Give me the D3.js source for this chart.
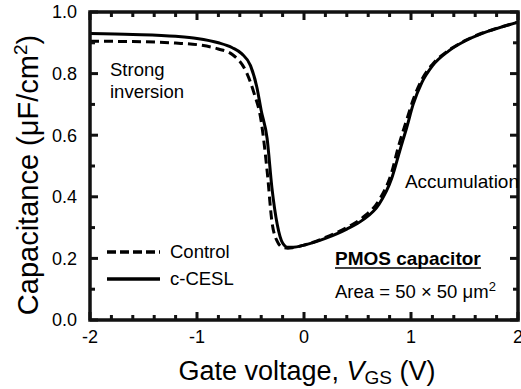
<!DOCTYPE html>
<html>
<head>
<meta charset="utf-8">
<script src="https://cdn.jsdelivr.net/npm/d3@7"></script>
<style>
  html, body { margin: 0; padding: 0; background: #fff; }
  svg { display: block; font-family: "Liberation Sans", Arial, Helvetica, sans-serif; }
</style>
</head>
<body>
<svg id="chart" width="521" height="389"></svg>
<script>
// ---- data ----
const xMajorTicks = [-2, -1, 0, 1, 2];
const yMajorTicks = [0.0, 0.2, 0.4, 0.6, 0.8, 1.0];
const xMinorTicks = [-1.8,-1.6,-1.4,-1.2,-0.8,-0.6,-0.4,-0.2,0.2,0.4,0.6,0.8,1.2,1.4,1.6,1.8];
const yMinorTicks = [0.1, 0.3, 0.5, 0.7, 0.9];
const xTickLabels = ["-2", "-1", "0", "1", "2"];
const yTickLabels = ["0.0", "0.2", "0.4", "0.6", "0.8", "1.0"];

const cceslV = [-2.0, -1.6, -1.2, -1.0, -0.8, -0.67, -0.58, -0.50, -0.44, -0.40, -0.345, -0.30, -0.25, -0.20, -0.15, -0.10, 0.0, 0.2, 0.4, 0.55, 0.70, 0.82, 0.90, 0.96, 1.02, 1.1, 1.2, 1.35, 1.5, 1.66, 1.8, 2.0];
const cceslC = [0.930, 0.927, 0.921, 0.914, 0.900, 0.884, 0.864, 0.826, 0.755, 0.680, 0.590, 0.430, 0.310, 0.250, 0.236, 0.236, 0.243, 0.265, 0.295, 0.325, 0.375, 0.460, 0.555, 0.625, 0.700, 0.770, 0.825, 0.873, 0.905, 0.930, 0.946, 0.967];

const controlV = [-2.0, -1.6, -1.2, -1.0, -0.8, -0.67, -0.54, -0.47, -0.40, -0.344, -0.30, -0.25, -0.20, -0.15, -0.10, 0.0, 0.2, 0.4, 0.55, 0.70, 0.82, 0.88, 0.96, 1.02, 1.1, 1.2, 1.35, 1.5, 1.66, 1.8, 2.0];
const controlC = [0.905, 0.904, 0.899, 0.894, 0.880, 0.862, 0.806, 0.740, 0.645, 0.482, 0.320, 0.255, 0.236, 0.233, 0.235, 0.243, 0.268, 0.300, 0.333, 0.388, 0.480, 0.560, 0.650, 0.715, 0.780, 0.830, 0.875, 0.906, 0.931, 0.947, 0.967];

const seriesNames = ["Control", "c-CESL"];

// ---- layout ----
const svg = d3.select("#chart");
const L = 90, R = 518, T = 12, B = 320;
const x = d3.scaleLinear().domain([-2, 2]).range([L, R]);
const y = d3.scaleLinear().domain([0, 1]).range([B, T]);

const font = '"Liberation Sans", Arial, Helvetica, sans-serif';

svg.append("defs").append("clipPath").attr("id", "clip")
  .append("rect").attr("x", L).attr("y", T).attr("width", R - L).attr("height", B - T);

// curves
const line = d3.line().x(d => x(d[0])).y(d => y(d[1])).curve(d3.curveMonotoneX);
const controlData = controlV.map((v, i) => [v, controlC[i]]);
const cceslData = cceslV.map((v, i) => [v, cceslC[i]]);

const g = svg.append("g").attr("clip-path", "url(#clip)");
g.append("path").datum(controlData).attr("d", line)
  .attr("fill", "none").attr("stroke", "#000").attr("stroke-width", 3)
  .attr("stroke-dasharray", "9,5");
g.append("path").datum(cceslData).attr("d", line)
  .attr("fill", "none").attr("stroke", "#000").attr("stroke-width", 3);

// frame
svg.append("rect").attr("x", L).attr("y", T).attr("width", R - L).attr("height", B - T)
  .attr("fill", "none").attr("stroke", "#111").attr("stroke-width", 3.5);

// tick marks (inward on all four sides)
const tickG = svg.append("g");
function addTicks(vals, len, horizontal) {
  vals.forEach(v => {
    if (horizontal) {
      tickG.append("line").attr("x1", x(v)).attr("x2", x(v)).attr("y1", B).attr("y2", B - len)
        .attr("stroke", "#111").attr("stroke-width", 3);
      tickG.append("line").attr("x1", x(v)).attr("x2", x(v)).attr("y1", T).attr("y2", T + len)
        .attr("stroke", "#111").attr("stroke-width", 3);
    } else {
      tickG.append("line").attr("x1", L).attr("x2", L + len).attr("y1", y(v)).attr("y2", y(v))
        .attr("stroke", "#111").attr("stroke-width", 3);
      tickG.append("line").attr("x1", R).attr("x2", R - len).attr("y1", y(v)).attr("y2", y(v))
        .attr("stroke", "#111").attr("stroke-width", 3);
    }
  });
}
addTicks(xMajorTicks, 8, true);
addTicks(xMinorTicks, 5, true);
addTicks(yMajorTicks, 8, false);
addTicks(yMinorTicks, 5, false);

// tick labels
svg.append("g").selectAll("text").data(xMajorTicks).enter().append("text")
  .attr("x", d => x(d)).attr("y", 343).attr("text-anchor", "middle")
  .attr("font-size", 18).attr("font-family", font).attr("fill", "#000")
  .text((d, i) => xTickLabels[i]);
svg.append("g").selectAll("text").data(yMajorTicks).enter().append("text")
  .attr("x", 77).attr("y", d => y(d)).attr("dy", "0.36em").attr("text-anchor", "end")
  .attr("font-size", 18).attr("font-family", font).attr("fill", "#000")
  .text((d, i) => yTickLabels[i]);

// axis titles
const xt = svg.append("text").attr("x", 307).attr("y", 380)
  .attr("text-anchor", "middle").attr("font-size", 27).attr("font-family", font).attr("fill", "#000");
xt.append("tspan").text("Gate voltage, ");
xt.append("tspan").attr("font-style", "italic").text("V");
xt.append("tspan").attr("font-size", 19).attr("dy", 4).text("GS");
xt.append("tspan").attr("dy", -4).text(" (V)");

const yt = svg.append("text").attr("transform", `translate(38,175) rotate(-90)`)
  .attr("text-anchor", "middle").attr("font-size", 29).attr("font-family", font).attr("fill", "#000");
yt.append("tspan").text("Capacitance (\u03bcF/cm");
yt.append("tspan").attr("font-size", 19).attr("dy", -11).text("2");
yt.append("tspan").attr("dy", 11).text(")");

// annotations
const ann = (t, xx, yy, opts = {}) => svg.append("text").attr("x", xx).attr("y", yy)
  .attr("font-size", opts.size || 18.5).attr("font-family", font).attr("fill", "#000")
  .attr("font-weight", opts.bold ? "bold" : "normal")
  .attr("text-anchor", opts.anchor || "start").text(t);

ann("Strong", 110, 76);
ann("inversion", 110, 98);
ann("Accumulation", 519, 188, { anchor: "end", size: 19 });
ann("PMOS capacitor", 335, 265, { bold: true, size: 19 });
svg.append("line").attr("x1", 335).attr("x2", 481).attr("y1", 268).attr("y2", 268)
  .attr("stroke", "#000").attr("stroke-width", 1.5);
const area = svg.append("text").attr("x", 335).attr("y", 298)
  .attr("font-size", 18.5).attr("font-family", font).attr("fill", "#000");
area.append("tspan").text("Area = 50 \u00d7 50 \u03bcm");
area.append("tspan").attr("font-size", 13).attr("dy", -7).text("2");

// legend
const legend = [
  { name: seriesNames[0], dash: "9,4", y: 252 },
  { name: seriesNames[1], dash: null, y: 279 }
];
legend.forEach(d => {
  svg.append("line").attr("x1", 107).attr("x2", 160).attr("y1", d.y).attr("y2", d.y)
    .attr("stroke", "#000").attr("stroke-width", 3.5).attr("stroke-dasharray", d.dash);
  svg.append("text").attr("x", 170).attr("y", d.y + 6).attr("font-size", 18.5)
    .attr("font-family", font).attr("fill", "#000").text(d.name);
});
</script>
</body>
</html>
